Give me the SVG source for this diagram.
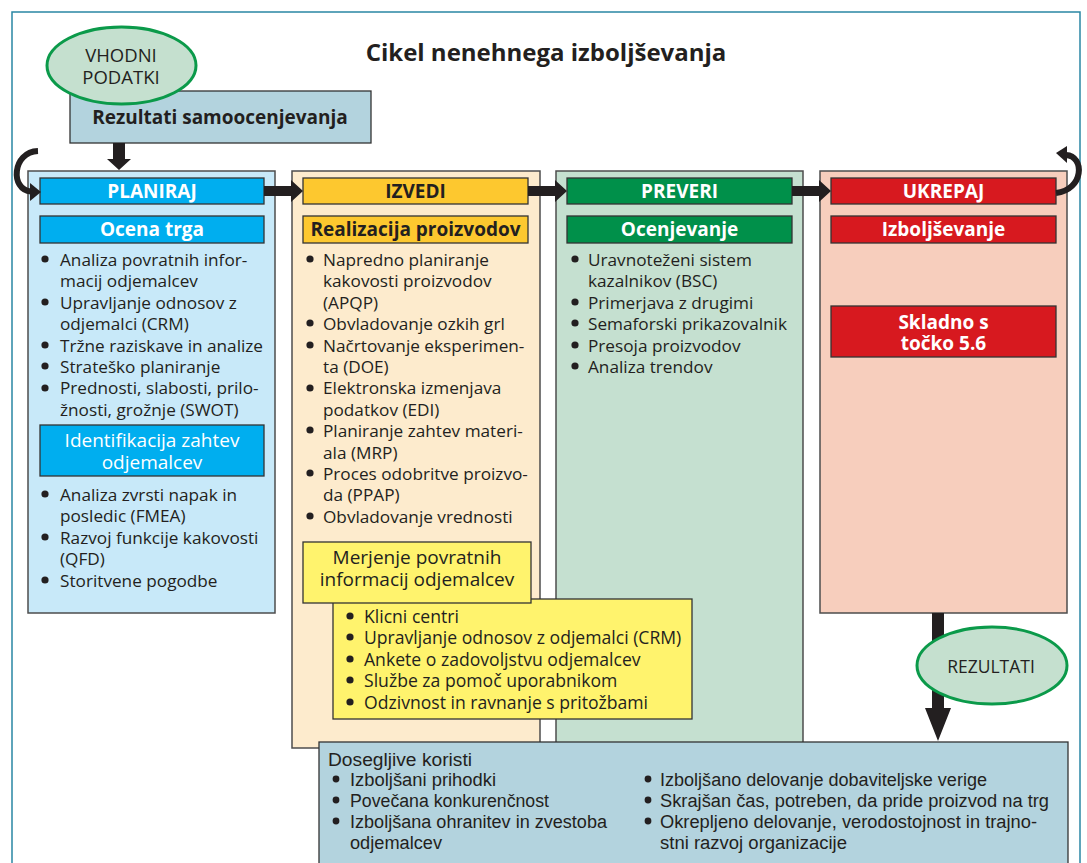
<svg xmlns="http://www.w3.org/2000/svg" width="1087" height="863" viewBox="0 0 1087 863">
<style>
text{font-family:"Open Sans","Noto Sans","Liberation Sans",sans-serif;fill:#231f20}
.t{font-size:17.2px}
.k{font-size:17.6px}
.hd{font-size:19px;font-weight:bold;fill:#fff;text-anchor:middle}
.hdk{font-size:19px;font-weight:bold;fill:#231f20;text-anchor:middle}
.wh{font-size:19px;fill:#fff;text-anchor:middle}
.col{stroke:#4d4d4d;stroke-width:1.5}
.bx{stroke:#333;stroke-width:1.3}
.b{fill:#231f20}
.ell{fill:#c5e0cf;stroke:#0b9a4a;stroke-width:3}
.ar{fill:#231f20}
.cv{fill:none;stroke:#231f20;stroke-width:6}
.bt{font-family:"Liberation Sans","Open Sans",sans-serif;font-size:18px}
</style>
<rect width="1087" height="863" fill="#fff"/>
<rect x="12" y="12" width="1068" height="880" fill="#fff" stroke="#2a86a4" stroke-width="1.5"/>
<text x="546" y="61" font-size="24" font-weight="bold" text-anchor="middle">Cikel nenehnega izboljševanja</text>

<g id="rezultati-samoocenjevanja">
<rect x="70" y="91" width="301" height="52" fill="#b3d3de" class="bx"/>
<text x="220" y="124" class="hdk">Rezultati samoocenjevanja</text>
</g>
<g id="vhodni-podatki">
<ellipse cx="121.5" cy="65.5" rx="74.5" ry="38.5" class="ell"/>
<text x="121" y="62" font-size="18.5" text-anchor="middle" fill="#333">VHODNI</text>
<text x="121" y="84" font-size="18.5" text-anchor="middle" fill="#333">PODATKI</text>
</g>

<g id="planiraj">
<rect x="28" y="171" width="247" height="442" fill="#c8e9f9" class="col"/>
<rect x="40" y="178" width="224" height="26" fill="#00aeef" class="bx"/>
<text x="152" y="197.5" class="hd">PLANIRAJ</text>
<rect x="40" y="216" width="224" height="27" fill="#00aeef" class="bx"/>
<text x="152" y="236" class="hd">Ocena trga</text>
<g class="b"><circle cx="45" cy="259" r="3.6"/><circle cx="45" cy="302" r="3.6"/><circle cx="45" cy="345" r="3.6"/><circle cx="45" cy="366" r="3.6"/><circle cx="45" cy="388" r="3.6"/></g>
<text class="t" x="60" y="266">Analiza povratnih infor-</text>
<text class="t" x="60" y="287.4">macij odjemalcev</text>
<text class="t" x="60" y="308.8">Upravljanje odnosov z</text>
<text class="t" x="60" y="330.2">odjemalci (CRM)</text>
<text class="t" x="60" y="351.6">Tržne raziskave in analize</text>
<text class="t" x="60" y="373">Strateško planiranje</text>
<text class="t" x="60" y="394.4">Prednosti, slabosti, prilo-</text>
<text class="t" x="60" y="415.8">žnosti, grožnje (SWOT)</text>
<rect x="40" y="425" width="224" height="51" fill="#00aeef" class="bx"/>
<text x="152" y="447" class="wh">Identifikacija zahtev</text>
<text x="152" y="469" class="wh">odjemalcev</text>
<g class="b"><circle cx="45" cy="494" r="3.6"/><circle cx="45" cy="537" r="3.6"/><circle cx="45" cy="580" r="3.6"/></g>
<text class="t" x="60" y="501">Analiza zvrsti napak in</text>
<text class="t" x="60" y="522.4">posledic (FMEA)</text>
<text class="t" x="60" y="543.8">Razvoj funkcije kakovosti</text>
<text class="t" x="60" y="565.2">(QFD)</text>
<text class="t" x="60" y="586.6">Storitvene pogodbe</text>
</g>

<g id="izvedi">
<rect x="292" y="171" width="248" height="577" fill="#fdebcd" class="col"/>
<rect x="303" y="178" width="225" height="26" fill="#fdc82f" class="bx"/>
<text x="415.5" y="197.5" class="hdk">IZVEDI</text>
<rect x="303" y="216" width="225" height="27" fill="#fdc82f" class="bx"/>
<text x="415.5" y="236" class="hdk">Realizacija proizvodov</text>
<g class="b"><circle cx="310" cy="259" r="3.6"/><circle cx="310" cy="323" r="3.6"/><circle cx="310" cy="345" r="3.6"/><circle cx="310" cy="388" r="3.6"/><circle cx="310" cy="430" r="3.6"/><circle cx="310" cy="473" r="3.6"/><circle cx="310" cy="516" r="3.6"/></g>
<text class="t" x="323" y="266">Napredno planiranje</text>
<text class="t" x="323" y="287.4">kakovosti proizvodov</text>
<text class="t" x="323" y="308.8">(APQP)</text>
<text class="t" x="323" y="330.2">Obvladovanje ozkih grl</text>
<text class="t" x="323" y="351.6">Načrtovanje eksperimen-</text>
<text class="t" x="323" y="373">ta (DOE)</text>
<text class="t" x="323" y="394.4">Elektronska izmenjava</text>
<text class="t" x="323" y="415.8">podatkov (EDI)</text>
<text class="t" x="323" y="437.2">Planiranje zahtev materi-</text>
<text class="t" x="323" y="458.6">ala (MRP)</text>
<text class="t" x="323" y="480">Proces odobritve proizvo-</text>
<text class="t" x="323" y="501.4">da (PPAP)</text>
<text class="t" x="323" y="522.8">Obvladovanje vrednosti</text>
</g>

<g id="preveri">
<rect x="556" y="171" width="247" height="579" fill="#c5e0d0" class="col"/>
<rect x="567" y="178" width="225" height="26" fill="#00904a" class="bx"/>
<text x="679.5" y="197.5" class="hd">PREVERI</text>
<rect x="567" y="216" width="225" height="27" fill="#00904a" class="bx"/>
<text x="679.5" y="236" class="hd">Ocenjevanje</text>
<g class="b"><circle cx="575" cy="259" r="3.6"/><circle cx="575" cy="302" r="3.6"/><circle cx="575" cy="323" r="3.6"/><circle cx="575" cy="345" r="3.6"/><circle cx="575" cy="366" r="3.6"/></g>
<text class="t" x="588" y="266">Uravnoteženi sistem</text>
<text class="t" x="588" y="287.4">kazalnikov (BSC)</text>
<text class="t" x="588" y="308.8">Primerjava z drugimi</text>
<text class="t" x="588" y="330.2">Semaforski prikazovalnik</text>
<text class="t" x="588" y="351.6">Presoja proizvodov</text>
<text class="t" x="588" y="373">Analiza trendov</text>
</g>

<g id="ukrepaj">
<rect x="820" y="171" width="247" height="442" fill="#f7cebd" class="col"/>
<rect x="831" y="178" width="225" height="26" fill="#d7191f" class="bx"/>
<text x="943.5" y="197.5" class="hd">UKREPAJ</text>
<rect x="831" y="216" width="225" height="27" fill="#d7191f" class="bx"/>
<text x="943.5" y="236" class="hd">Izboljševanje</text>
<rect x="831" y="306" width="225" height="51" fill="#d7191f" class="bx"/>
<text x="943.5" y="329" class="hd">Skladno s</text>
<text x="943.5" y="350" class="hd">točko 5.6</text>
</g>

<g id="klicni">
<rect x="333" y="599" width="359" height="120" fill="#fff36d" class="bx"/>
<g class="b"><circle cx="350" cy="616" r="3.6"/><circle cx="350" cy="637" r="3.6"/><circle cx="350" cy="659" r="3.6"/><circle cx="350" cy="680" r="3.6"/><circle cx="350" cy="702" r="3.6"/></g>
<text class="k" x="364" y="623">Klicni centri</text>
<text class="k" x="364" y="644.4">Upravljanje odnosov z odjemalci (CRM)</text>
<text class="k" x="364" y="665.8">Ankete o zadovoljstvu odjemalcev</text>
<text class="k" x="364" y="687.2">Službe za pomoč uporabnikom</text>
<text class="k" x="364" y="708.6">Odzivnost in ravnanje s pritožbami</text>
</g>
<g id="merjenje">
<rect x="303" y="542" width="228" height="61" fill="#fff36d" class="bx"/>
<text x="417" y="564" font-size="19" text-anchor="middle">Merjenje povratnih</text>
<text x="417" y="586" font-size="19" text-anchor="middle">informacij odjemalcev</text>
</g>

<g id="connectors">
<path class="ar" d="M113 143H125V159H131L119 170L107 159H113Z"/>
<path class="ar" d="M264 186H291V180L303 191L291 202V196H264Z"/>
<path class="ar" d="M528 186H555V180L567 191L555 202V196H528Z"/>
<path class="ar" d="M792 186H819V180L831 191L819 202V196H792Z"/>
<path class="ar" d="M932 613H944V708H951L938 741L925 708H932Z"/>
<path class="cv" d="M38 151C12 152 10 190 31 191.5"/>
<path class="ar" d="M41 192L30 183V201Z"/>
<path class="cv" d="M1056 193C1084 190 1085 156 1066 155"/>
<path class="ar" d="M1056 153L1067 146L1067 163Z"/>
</g>

<g id="rezultati">
<ellipse cx="992" cy="665.5" rx="75" ry="38.5" class="ell"/>
<text x="991" y="673" font-size="17.5" text-anchor="middle" fill="#333">REZULTATI</text>
</g>

<g id="koristi">
<rect x="319" y="742" width="749" height="140" fill="#b3d3de" class="bx"/>
<text class="bt" x="328" y="766" textLength="144" lengthAdjust="spacingAndGlyphs">Dosegljive koristi</text>
<g class="b"><circle cx="336" cy="779" r="3.4"/><circle cx="336" cy="800" r="3.4"/><circle cx="336" cy="821" r="3.4"/><circle cx="648" cy="779" r="3.4"/><circle cx="648" cy="800" r="3.4"/><circle cx="648" cy="821" r="3.4"/></g>
<text class="bt" x="350" y="786" textLength="146" lengthAdjust="spacingAndGlyphs">Izboljšani prihodki</text>
<text class="bt" x="350" y="807" textLength="199" lengthAdjust="spacingAndGlyphs">Povečana konkurenčnost</text>
<text class="bt" x="350" y="828" textLength="257" lengthAdjust="spacingAndGlyphs">Izboljšana ohranitev in zvestoba</text>
<text class="bt" x="350" y="849" textLength="92" lengthAdjust="spacingAndGlyphs">odjemalcev</text>
<text class="bt" x="660" y="786" textLength="327" lengthAdjust="spacingAndGlyphs">Izboljšano delovanje dobaviteljske verige</text>
<text class="bt" x="660" y="807" textLength="389" lengthAdjust="spacingAndGlyphs">Skrajšan čas, potreben, da pride proizvod na trg</text>
<text class="bt" x="660" y="828" textLength="377" lengthAdjust="spacingAndGlyphs">Okrepljeno delovanje, verodostojnost in trajno-</text>
<text class="bt" x="660" y="849" textLength="187" lengthAdjust="spacingAndGlyphs">stni razvoj organizacije</text>
</g>
</svg>
